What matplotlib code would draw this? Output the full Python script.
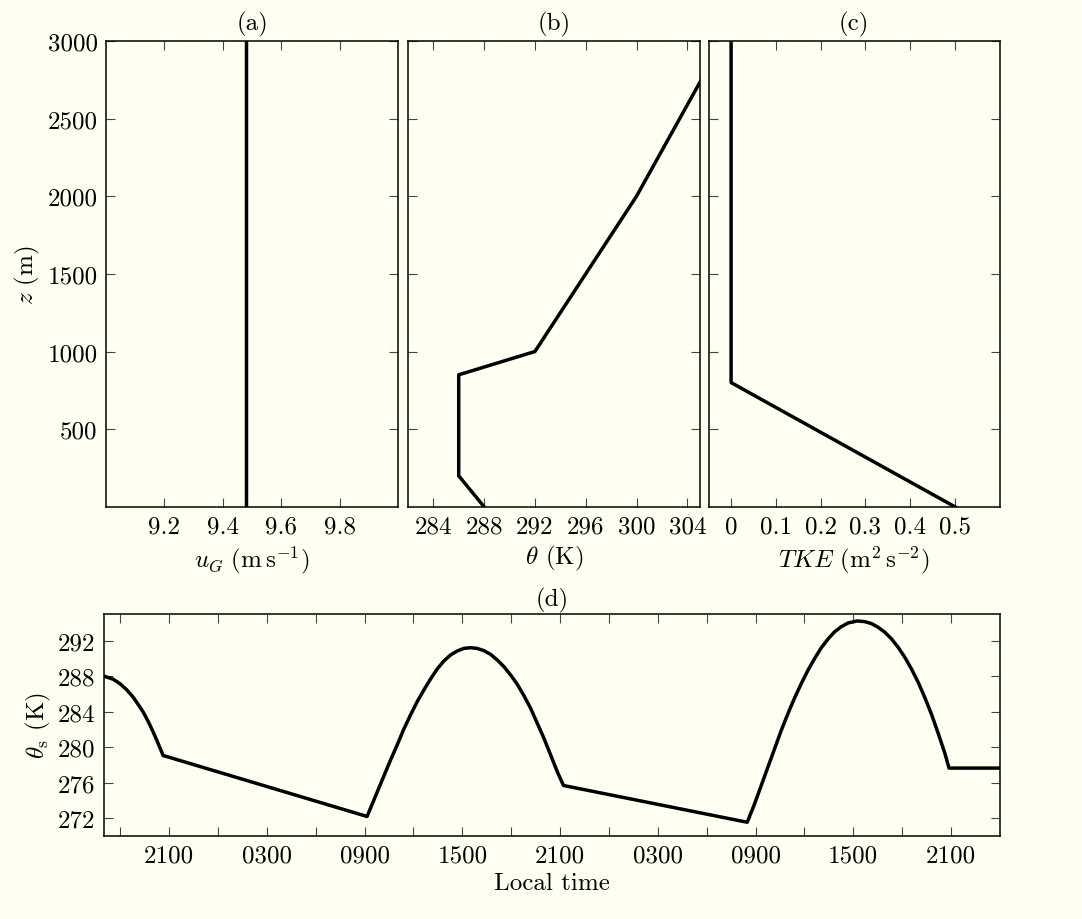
import numpy as np
import matplotlib
matplotlib.use('Agg')
import matplotlib.pyplot as plt

#font settings to look like latex
plt.rcParams['font.family']='serif'
plt.rcParams['font.serif']=['cmr10']
plt.rcParams['mathtext.fontset']='cm'
plt.rcParams['axes.unicode_minus']=False
plt.rcParams['axes.formatter.use_mathtext']=True

#data for the profiles (height in m)
z_ug=[0,3000]
ug=[9.48,9.48]

z_theta=[0,200,850,1000,2000,3000]
theta=[288,286,286,292,300,306.8]

z_tke=[0,800,3000]
tke=[0.5,0,0]

#surface temperature, hours after 1700 local time
hours=[0,0.56,0.97,1.38,1.78,2.09,2.40,2.71,3.02,3.33,3.63,
       16.15,17.58,17.99,18.40,18.81,19.22,19.63,20.04,20.45,20.86,21.27,
       21.68,22.09,22.50,22.91,23.33,23.74,24.15,24.56,24.97,25.38,25.79,
       26.20,26.61,27.02,27.43,27.84,28.21,
       39.49,39.94,40.35,40.76,41.17,41.58,41.99,42.40,42.81,43.22,43.63,
       44.04,44.45,44.86,45.27,45.68,46.24,46.71,47.12,47.53,47.94,48.35,
       48.76,49.17,49.58,49.99,50.40,50.81,51.22,51.63,51.88,55.0]
theta_s=[288.0,287.66,287.17,286.5,285.67,284.84,283.98,282.92,281.72,280.4,
         279.07,
         272.2,278.51,280.21,282.01,283.6,285.1,286.42,287.66,288.79,289.7,
         290.38,290.83,291.13,291.21,291.13,290.87,290.45,289.81,289.06,
         288.12,287.06,285.78,284.35,282.66,280.96,279.08,277.19,275.69,
         271.55,273.62,275.69,277.76,279.83,281.9,283.79,285.56,287.17,
         288.68,290.0,291.21,292.19,293.01,293.58,293.99,294.22,294.14,
         293.92,293.5,292.94,292.19,291.24,290.11,288.79,287.29,285.56,
         283.67,281.53,279.27,277.65,277.65]

#tick labels for the time axis
time_ticks=[4,10,16,22,28,34,40,46,52]
time_labels=['2100','0300','0900','1500','2100','0300','0900','1500','2100']
time_minor=[1,7,13,19,25,31,37,43,49]

bg='#fffff2'
fs=18
lw=2.5

fig=plt.figure(figsize=(10.82,9.2),dpi=100,facecolor=bg)

def style(ax):
    ax.set_facecolor(bg)
    ax.tick_params(which='both',direction='in',top=True,right=True,
                   length=6.5,width=0.8,labelsize=fs,pad=6,color='#444444')
    for s in ax.spines.values():
        s.set_linewidth(1.1)

#panel (a)
ax1=fig.add_axes([0.098,0.448,0.270,0.5065])
ax1.plot(ug,z_ug,color='k',lw=lw)
ax1.set_xlim(9.0,10.0)
ax1.set_ylim(0,3000)
ax1.set_xticks([9.2,9.4,9.6,9.8])
ax1.set_xticklabels(['9.2','9.4','9.6','9.8'])
ax1.set_yticks([500,1000,1500,2000,2500,3000])
ax1.set_yticklabels(['500','1000','1500','2000','2500','3000'])
ax1.set_xlabel(r'$u_G\ (\mathrm{m\,s^{-1}})$',fontsize=fs)
ax1.set_ylabel(r'$z$ (m)',fontsize=fs)
ax1.set_title('(a)',fontsize=fs,pad=8)
style(ax1)

#panel (b)
ax2=fig.add_axes([0.377,0.448,0.270,0.5065])
ax2.plot(theta,z_theta,color='k',lw=lw)
ax2.set_xlim(282,305)
ax2.set_ylim(0,3000)
ax2.set_xticks([284,288,292,296,300,304])
ax2.set_xticklabels(['284','288','292','296','300','304'])
ax2.set_yticks([500,1000,1500,2000,2500,3000])
ax2.set_yticklabels([])
ax2.set_xlabel(r'$\theta$ (K)',fontsize=fs)
ax2.set_title('(b)',fontsize=fs,pad=8)
style(ax2)

#panel (c)
ax3=fig.add_axes([0.655,0.448,0.269,0.5065])
ax3.plot(tke,z_tke,color='k',lw=lw)
ax3.set_xlim(-0.05,0.6)
ax3.set_ylim(0,3000)
ax3.set_xticks([0,0.1,0.2,0.3,0.4,0.5])
ax3.set_xticklabels(['0','0.1','0.2','0.3','0.4','0.5'])
ax3.set_yticks([500,1000,1500,2000,2500,3000])
ax3.set_yticklabels([])
ax3.set_xlabel(r'$TKE\ (\mathrm{m^2\,s^{-2}})$',fontsize=fs)
ax3.set_title('(c)',fontsize=fs,pad=8)
style(ax3)

#panel (d)
ax4=fig.add_axes([0.0961,0.0902,0.828,0.2413])
ax4.plot(hours,theta_s,color='k',lw=lw)
ax4.set_xlim(0,55)
ax4.set_ylim(270,295)
ax4.set_xticks(time_ticks)
ax4.set_xticklabels(time_labels)
ax4.set_xticks(time_minor,minor=True)
ax4.set_yticks([272,276,280,284,288,292])
ax4.set_yticklabels(['272','276','280','284','288','292'])
ax4.set_xlabel('Local time',fontsize=fs)
ax4.set_ylabel(r'$\theta_\mathrm{s}$ (K)',fontsize=fs)
ax4.set_title('(d)',fontsize=fs,pad=6)
style(ax4)

plt.savefig('out.png',dpi=100,facecolor=bg)
